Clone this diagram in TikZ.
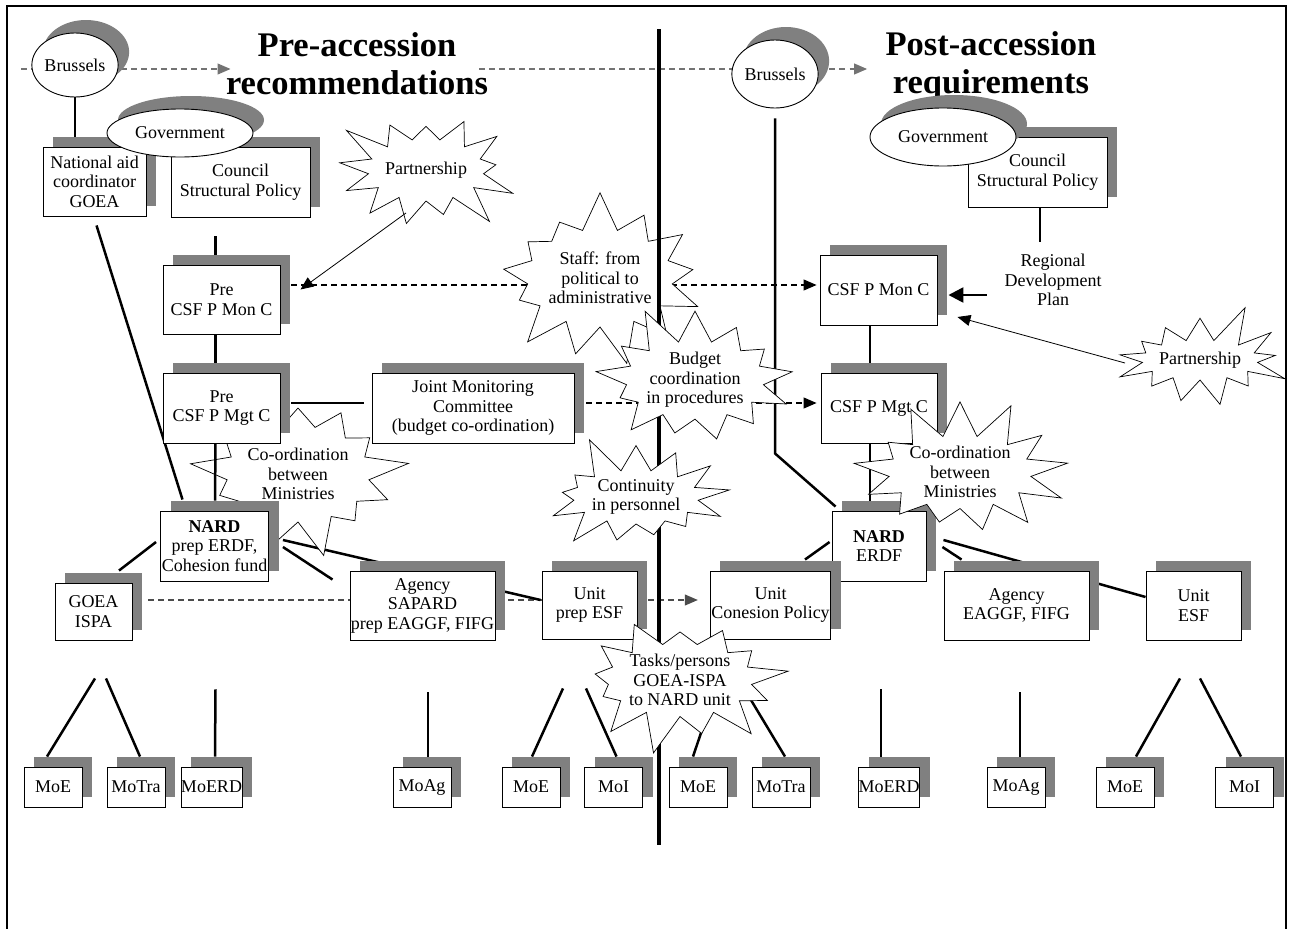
\documentclass[tikz,border=0pt]{standalone}
\usepackage{fontspec}
\setmainfont{Liberation Serif}
\usetikzlibrary{shapes, arrows.meta, positioning, calc, shadows, backgrounds}

\tikzset{
 box/.style={draw, rectangle, fill=white, line width=0.9pt, align=center, inner sep=1pt,
   font=\fontsize{18}{19.5}\selectfont,
   drop shadow={shadow xshift=10pt, shadow yshift=10pt, fill=black!50, opacity=1}},
 mbox/.style={box, inner sep=0pt, minimum width=58pt, minimum height=40pt},
 ell/.style={draw, ellipse, fill=white, line width=0.9pt, inner sep=0pt,
   font=\fontsize{18}{19.5}\selectfont,
   drop shadow={shadow xshift=11pt, shadow yshift=13pt, fill=black!50, opacity=1}},
 burst/.style={draw, starburst, starburst points=13, starburst point height=40pt,
   fill=white, line width=0.7pt, align=center, inner sep=0pt,
   font=\fontsize{18}{19.5}\selectfont},
 title/.style={align=center, font=\fontsize{34.5}{38}\selectfont\bfseries},
 conn/.style={line width=2.5pt},
 dasharr/.style={line width=1.1pt, dash pattern=on 6pt off 4pt, -{Triangle[length=13pt, width=11pt]}},
 thinarr/.style={line width=0.8pt, -{Triangle[length=13pt, width=11pt]}}
}

\begin{document}
\begin{tikzpicture}[x=1pt, y=-1pt]
\useasboundingbox (0,0) rectangle (1291,929);
\draw[line width=1.8pt] (7,929) -- (7,6) -- (1286,6) -- (1286,929);

% headings
\node[title] (preT) at (357,64) {Pre-accession\\recommendations};
\node[title] (postT) at (991,66) {Post-accession\\requirements};

% pre-accession side
\node[ell, minimum width=85pt, minimum height=64pt] (brusL) at (75,65) {Brussels};
\node[box, minimum width=103pt, minimum height=69pt] (natl) at (94.5,181.5) {National aid\\coordinator\\GOEA};
\node[box, minimum width=139pt, minimum height=70pt] (councilL) at (240.5,182) {Council\\Structural Policy};
\node[ell, minimum width=146pt, minimum height=48pt] (govL) at (180,133) {Government};
\node[box, minimum width=117pt, minimum height=69pt] (premon) at (221.5,299.5) {Pre\\CSF P Mon C};
\node[box, minimum width=117pt, minimum height=70pt] (premgt) at (221.5,408) {Pre\\CSF P Mgt C};
\node[box, minimum width=202pt, minimum height=70pt] (jmc) at (473,408) {Joint Monitoring\\Committee\\(budget co-ordination)};
\node[box, minimum width=108pt, minimum height=70pt] (nardL) at (214.5,546) {\textbf{NARD}\\prep ERDF,\\Cohesion fund};
\node[box, minimum width=77pt, minimum height=57pt] (goea) at (93.5,611.5) {GOEA\\ISPA};
\node[box, minimum width=143pt, minimum height=69pt] (agencyL) at (422.5,605.5) {Agency\\SAPARD\\prep EAGGF, FIFG};
\node[box, minimum width=95pt, minimum height=68pt] (unitprep) at (589.5,605) {Unit\\prep ESF};

% post-accession side
\node[ell, minimum width=84pt, minimum height=68pt] (brusR) at (775,74) {Brussels};
\node[box, minimum width=139pt, minimum height=70pt] (councilR) at (1037.5,172) {Council\\Structural Policy};
\node[ell, minimum width=146pt, minimum height=58pt] (govR) at (943,137) {Government};
\node[align=center, font=\fontsize{18}{19.5}\selectfont] (regplan) at (1053,280) {Regional\\Development\\Plan};
\node[box, minimum width=117pt, minimum height=70pt] (monR) at (878.5,290) {CSF P Mon C};
\node[box, minimum width=116pt, minimum height=70pt] (mgtR) at (879,408) {CSF P Mgt C};
\node[box, minimum width=94pt, minimum height=70pt] (nardR) at (879,546) {\textbf{NARD}\\ERDF};
\node[box, minimum width=117pt, minimum height=68pt] (unitcoh) at (770.5,605) {Unit\\Conesion Policy};
\node[box, minimum width=145pt, minimum height=69pt] (agencyR) at (1016.5,605.5) {Agency\\EAGGF, FIFG};
\node[box, minimum width=95pt, minimum height=69pt] (unitesf) at (1193.5,605.5) {Unit\\ESF};

% ministries
\node[mbox] (moeA) at (53,787) {MoE};
\node[mbox] (motraA) at (136,787) {MoTra};
\node[mbox] (moerdA) at (211.5,787) {MoERD};
\node[mbox] (moagA) at (422,787) {MoAg};
\node[mbox] (moeB) at (531,787) {MoE};
\node[mbox] (moiA) at (613.5,787) {MoI};
\node[mbox] (moeC) at (698,787) {MoE};
\node[mbox] (motraB) at (781,787) {MoTra};
\node[mbox] (moerdB) at (889,787) {MoERD};
\node[mbox] (moagB) at (1016,787) {MoAg};
\node[mbox] (moeD) at (1125,787) {MoE};
\node[mbox] (moiB) at (1244.5,787) {MoI};

% connectors behind the boxes
\begin{scope}[on background layer]
 \draw[dasharr, black!55] ($(brusL.west)+(-10,4)$) -- ($(preT.west)+(8,5)$);
 \draw[dasharr, black!55] ($(preT.east)+(-12,5)$) -- ($(postT.west)+(-15,3)$);
 \draw[dasharr] ($(premon.east)+(11,-14.5)$) -- ($(monR.west)+(-3,-5)$);
 \draw[dasharr] ($(jmc.east)+(12,-5)$) -- ($(mgtR.west)+(-4,-5)$);
 \draw[dasharr, black!70] ($(goea.east)+(16,-11.5)$) -- ($(unitcoh.west)+(-12,-5)$);

 \draw[conn, shorten >=10pt] (brusL.south) -- (brusL.south |- natl.north);
 \draw[conn] ($(natl.south)+(2,9)$) -- ($(nardL.north)+(-32,-11)$);
 \draw[conn] ($(councilL.south)+(-25,19)$) -- ($(premon.north)+(-6,-10)$);
 \draw[conn] ($(premon.south)+(-6,0)$) -- ($(premgt.north)+(-6,-10)$);
 \draw[conn] ($(premgt.east)+(11,-5)$) -- ($(jmc.west)+(-8,-5)$);
 \draw[conn] ($(goea.north)+(25.5,-12)$) -- ($(nardL.west)+(-4,-4)$);
 \draw[conn] ($(nardL.east)+(14,-6)$) -- ($(unitprep.west)+(-1,-5)$);
 \draw[conn] ($(nardL.east)+(14,1)$) -- ($(agencyL.north west)+(-17,9)$);

 \draw[conn] ($(brusR.south)+(0,10)$) -- ($(brusR.south |- mgtR.south)+(0,10)$) -- ($(nardR.north west)+(4,-4)$);
 \draw[conn] ($(councilR.south)+(2.5,0)$) -- ($(councilR.south)+(2.5,35)$);
 \draw[conn] ($(monR.south)+(-8.5,0)$) -- ($(mgtR.north)+(-9,-10)$);
 \draw[conn] ($(mgtR.south)+(-9,0)$) -- ($(nardR.north)+(-9,-10)$);
 \draw[conn] ($(unitcoh.north)+(34.5,-11)$) -- ($(nardR.west)+(-2,-4)$);
 \draw[conn] ($(nardR.east)+(17,-6)$) -- ($(unitesf.west)+(0,-8.5)$);
 \draw[conn] ($(nardR.east)+(16,1)$) -- ($(agencyR.north west)+(18,-11)$);

 \draw[conn] ($(goea.south)+(1.5,38)$) -- ($(moeA.north)+(-6,-10)$);
 \draw[conn] ($(goea.south)+(12.5,38)$) -- ($(motraA.north)+(4,-10)$);
 \draw[conn] ($(nardL.south)+(1,108)$) -- ($(moerdA.north)+(3.5,-10)$);
 \draw[conn] ($(agencyL.south)+(5.5,52)$) -- ($(moagA.north)+(6,-10)$);
 \draw[conn] ($(unitprep.south)+(-26.5,49)$) -- ($(moeB.north)+(1,-10)$);
 \draw[conn] ($(unitprep.south)+(-3.5,49)$) -- ($(moiA.north)+(3,-10)$);
 \draw[conn] ($(unitcoh.south)+(-54.5,49)$) -- ($(moeC.north)+(-5,-10)$);
 \draw[conn] ($(unitcoh.south)+(-26.5,49)$) -- ($(motraB.north)+(4,-10)$);
 \draw[conn] ($(nardR.south)+(2,108)$) -- ($(moerdB.north)+(-8,-10)$);
 \draw[conn] ($(agencyR.south)+(3.5,52)$) -- ($(moagB.north)+(4,-10)$);
 \draw[conn] ($(unitesf.south)+(-13.5,38)$) -- ($(moeD.north)+(11,-10)$);
 \draw[conn] ($(unitesf.south)+(6.5,38)$) -- ($(moiB.north)+(-3.5,-10)$);

 % star under the boxes, line over the star
 \node[burst, random starburst=9, minimum width=156pt, minimum height=176pt] (coordL) at (298,474) {Co-ordination\\between\\Ministries};
 \draw[conn] ($(premgt.south)+(-6,0)$) -- ($(nardL.north)+(0.5,-10)$);
\end{scope}

% remarks
\node[burst, random starburst=3, minimum width=176pt, minimum height=142pt] (partL) at (426,170) {Partnership};
\node[burst, random starburst=7, minimum width=184pt, minimum height=178pt] (staff) at (600,278) {Staff: from\\political to\\administrative};
\draw[line width=4pt] (659,29) -- (659,845);
\node[burst, random starburst=11, minimum width=190pt, minimum height=156pt] (budget) at (695,380) {Budget\\coordination\\in procedures};
\node[burst, random starburst=5, minimum width=154pt, minimum height=134pt] (contin) at (636,497) {Continuity\\in personnel};
\node[burst, random starburst=4, minimum width=186pt, minimum height=148pt] (coordR) at (960,472) {Co-ordination\\between\\Ministries};
\node[burst, random starburst=13, minimum width=172pt, minimum height=140pt] (tasks) at (680,680) {Tasks/persons\\GOEA-ISPA\\to NARD unit};
\node[burst, random starburst=2, minimum width=186pt, minimum height=120pt] (partR) at (1200,360) {Partnership};

\draw[thinarr] ($(partL)+(-20,43)$) -- ($(premon.east)+(20,-10)$);
\draw[thinarr] ($(partR)+(-75,3)$) -- ($(monR.east)+(20,27)$);
\draw[conn, -{Triangle[length=15pt, width=15pt]}] ($(regplan.west)+(-14,15)$) -- ($(monR.east)+(11,5)$);
\end{tikzpicture}
\end{document}
